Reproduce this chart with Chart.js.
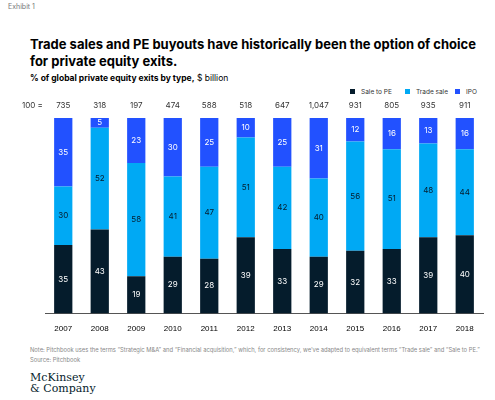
<!DOCTYPE html>
<html><head><meta charset="utf-8">
<script src="https://cdn.jsdelivr.net/npm/chart.js@4"></script>
<style>
body{margin:0;width:495px;height:400px;position:relative;font-family:Inter,"Noto Sans",sans-serif;background:#fff;overflow:hidden}
.t{position:absolute;left:30px}
#box{position:absolute;left:0;top:100px;width:495px;height:237px}
.lg{position:absolute;top:88px;font-size:6.5px;color:#333}
.lg i{display:inline-block;width:5px;height:5px;margin-right:6px}
</style></head><body>
<div class="t" style="left:8px;top:2px;font-size:7px;color:#777">Exhibit 1</div>
<div class="t" style="top:36px;width:460px;font-size:13px;font-weight:700;line-height:17px;color:#000">Trade sales and PE buyouts have historically been the option of choice for private equity exits.</div>
<div class="t" style="top:73px;font-size:8.5px;color:#000"><b>% of global private equity exits by type,</b> $ billion</div>
<div class="lg" style="left:350px"><i style="background:#051c2c"></i>Sale to PE</div>
<div class="lg" style="left:405px"><i style="background:#00a9f4"></i>Trade sale</div>
<div class="lg" style="left:455px"><i style="background:#2251ff"></i>IPO</div>
<div id="box"><canvas id="c"></canvas></div>
<div class="t" style="top:346px;font-size:5.8px;color:#888;width:460px">Note: Pitchbook uses the terms “Strategic M&amp;A” and “Financial acquisition,” which, for consistency, we’ve adapted to equivalent terms “Trade sale” and “Sale to PE.”</div>
<div class="t" style="top:356px;font-size:5.8px;color:#888">Source: Pitchbook</div>
<div class="t" style="top:372px;font-family:'DejaVu Serif',serif;font-size:11px;line-height:11px;color:#051c2c">McKinsey<br>&amp; Company</div>
<script>
const years = ['2007','2008','2009','2010','2011','2012','2013','2014','2015','2016','2017','2018']
const totals = ['735','318','197','474','588','518','647','1,047','931','805','935','911']
const saleToPE = [35,43,19,29,28,39,33,29,32,33,39,40]
const tradeSale = [30,52,58,41,47,51,42,40,56,51,48,44]
const ipo = [35,5,23,30,25,10,25,31,12,16,13,16]

const labels = {
  id: 'labels',
  afterDatasetsDraw(chart) {
    const ctx = chart.ctx
    ctx.save()
    ctx.font = '8px Inter'
    ctx.textAlign = 'center'
    ctx.textBaseline = 'middle'
    chart.data.datasets.forEach((ds, i) => {
      chart.getDatasetMeta(i).data.forEach((bar, j) => {
        ctx.fillStyle = i == 1 ? '#051c2c' : '#fff'
        ctx.fillText(ds.data[j], bar.x, (bar.y + bar.base) / 2)
      })
    })
    ctx.fillStyle = '#333'
    const y = chart.chartArea.top - 12
    chart.getDatasetMeta(0).data.forEach((bar, j) => ctx.fillText(totals[j], bar.x, y))
    ctx.textAlign = 'left'
    ctx.fillText('100 =', 22, y)
    ctx.restore()
  }
}

new Chart(document.getElementById('c'), {
  type: 'bar',
  data: {
    labels: years,
    datasets: [
      { label: 'Sale to PE', data: saleToPE, backgroundColor: '#051c2c' },
      { label: 'Trade sale', data: tradeSale, backgroundColor: '#00a9f4' },
      { label: 'IPO', data: ipo, backgroundColor: '#2251ff' }
    ]
  },
  options: {
    responsive: true, maintainAspectRatio: false, animation: false,
    barPercentage: 0.5, categoryPercentage: 1,
    layout: { padding: { left: 45, right: 12, top: 18 } },
    plugins: { legend: { display: false }, tooltip: { enabled: false } },
    scales: {
      x: { stacked: true, grid: { display: false }, border: { color: '#555' }, ticks: { color: '#000', font: { size: 8, weight: 'normal' } } },
      y: { stacked: true, max: 100, display: false }
    }
  },
  plugins: [labels]
})
</script>
</body></html>
